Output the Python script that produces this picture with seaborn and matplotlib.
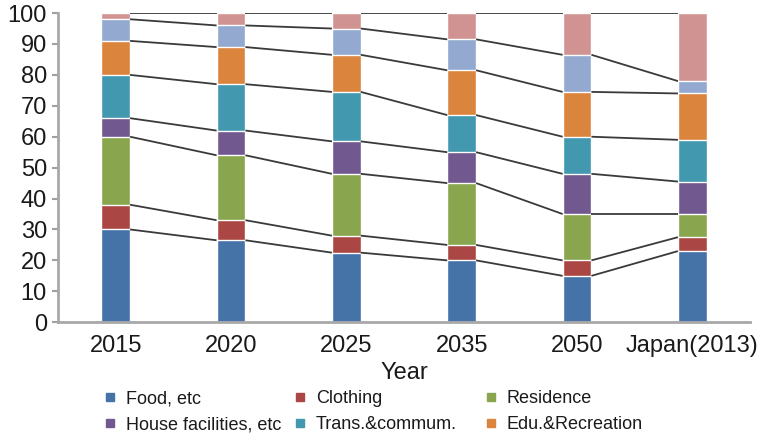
import numpy as np
import pandas as pd
import matplotlib
matplotlib.use("Agg")
import matplotlib.pyplot as plt
from matplotlib.lines import Line2D
import seaborn as sns

# Household consumption structure (% of total), by projection year
years = ["2015", "2020", "2025", "2035", "2050", "Japan(2013)"]

food = [30, 26.5, 22.5, 20, 15, 23]
clothing = [8, 6.5, 5.5, 5, 5, 4.5]
residence = [22, 21, 20, 20, 15, 7.5]
house_facilities = [6, 8, 10.5, 10, 13, 10.5]
trans_commum = [14, 15, 16, 12, 12, 13.5]
edu_recreation = [11, 12, 12, 14.5, 14.5, 15]
other_a = [7, 7, 8.5, 10, 12, 4]
other_b = [2, 4, 5, 8.5, 13.5, 22]

series_names = ["Food, etc", "Clothing", "Residence", "House facilities, etc",
                "Trans.&commum.", "Edu.&Recreation", "Other A", "Other B"]
series_values = [food, clothing, residence, house_facilities,
                 trans_commum, edu_recreation, other_a, other_b]
series_colors = ["#4572A7", "#AA4643", "#89A54E", "#71588F",
                 "#4198AF", "#DB843D", "#93A9CF", "#D19392"]

sns.set_theme(style="white")
plt.rcParams["font.family"] = ["Liberation Sans", "DejaVu Sans"]
text_color = "#1a1a1a"

W, H = 763, 436
fig = plt.figure(figsize=(W / 100, H / 100), dpi=100)
ax = fig.add_axes([0.076, 0.261, 0.907, 0.709])

# cumulative tops of each layer
tops = np.cumsum(np.array(series_values, dtype=float), axis=0)
bar_width = 0.25

# draw tallest cumulative layer first so the shorter ones sit on top
for name, top, color in reversed(list(zip(series_names, tops, series_colors))):
    df = pd.DataFrame({"year": years, "value": top})
    sns.barplot(data=df, x="year", y="value", color=color, saturation=1,
                width=bar_width, ax=ax, errorbar=None, zorder=2)

# series lines joining layer boundaries between neighbouring bars
for top in tops:
    for i in range(len(years) - 1):
        ax.plot([i + bar_width / 2, i + 1 - bar_width / 2], [top[i], top[i + 1]],
                color="#3a3a3a", lw=1.3, zorder=3, solid_capstyle="butt")

ax.set_ylim(0, 100)
ax.set_xlim(-0.5, len(years) - 0.5)
ax.set_yticks(range(0, 101, 10))
ax.tick_params(axis="y", labelsize=17, colors="#a0a0a0", labelcolor=text_color,
               length=4, width=1.5, left=True, pad=4)
ax.tick_params(axis="x", labelsize=17, labelcolor=text_color, length=0, pad=9)
ax.set_xlabel("Year", fontsize=17, color=text_color, labelpad=4)
ax.set_ylabel("")

for side in ["top", "right"]:
    ax.spines[side].set_visible(False)
for side in ["left", "bottom"]:
    ax.spines[side].set_color("#a8a8a8")
    ax.spines[side].set_linewidth(2)

# legend: three fixed-width columns, two rows each
columns = [(0, 3), (1, 4), (2, 5)]
col_x = [105, 295, 486]
for (a, b), x0 in zip(columns, col_x):
    handles = [Line2D([], [], marker="s", linestyle="", markersize=6,
                      color=series_colors[k]) for k in (a, b)]
    fig.legend(handles, [series_names[a], series_names[b]],
               loc="upper left", bbox_to_anchor=(x0 / W, 1 - 390 / H),
               frameon=False, fontsize=13, handlelength=0.6, handletextpad=0.55,
               labelspacing=0.5, borderaxespad=0, borderpad=0,
               labelcolor=text_color)

fig.savefig("out.png", dpi=100)
